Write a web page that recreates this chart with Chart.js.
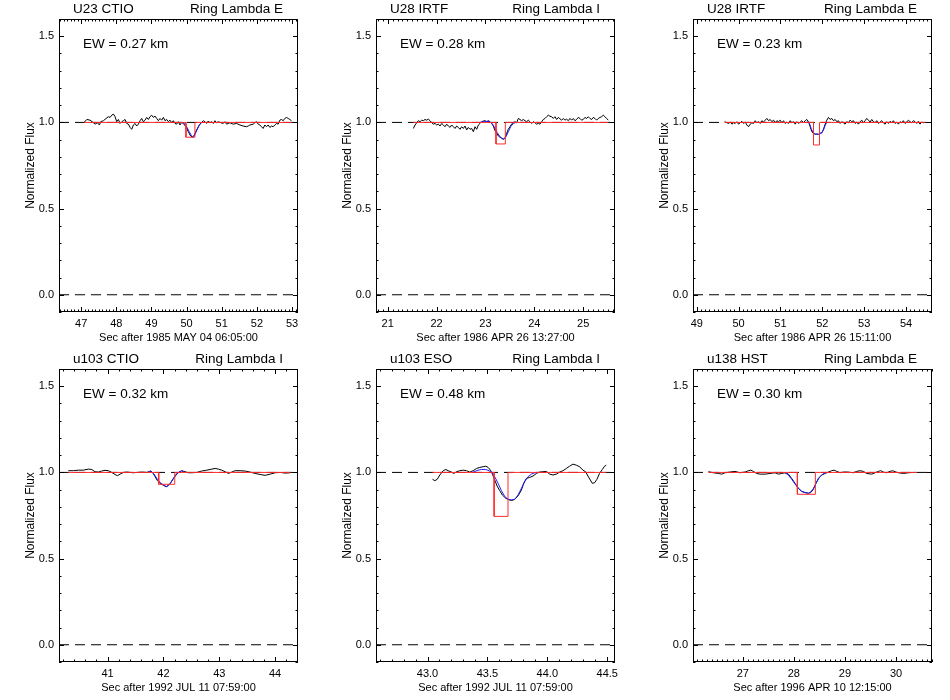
<!DOCTYPE html>
<html>
<head>
<meta charset="utf-8">
<title>Ring Lambda occultation profiles</title>
<script src="https://cdn.jsdelivr.net/npm/chart.js@4.4.1/dist/chart.umd.min.js"></script>
<style>
  body { margin: 0; background: #fff; }
  #wrap { position: relative; width: 950px; height: 700px; }
  canvas { position: absolute; }
</style>
</head>
<body>
<div id="wrap">
  <canvas id="c1" width="317" height="350" style="left:0px;top:0px"></canvas>
  <canvas id="c2" width="317" height="350" style="left:317px;top:0px"></canvas>
  <canvas id="c3" width="317" height="350" style="left:634px;top:0px"></canvas>
  <canvas id="c4" width="317" height="350" style="left:0px;top:350px"></canvas>
  <canvas id="c5" width="317" height="350" style="left:317px;top:350px"></canvas>
  <canvas id="c6" width="317" height="350" style="left:634px;top:350px"></canvas>
</div>
<script>
// ---- shared axis values ----
var yRange = [-0.1, 1.6];
var yTicks = [0.0, 0.5, 1.0, 1.5];

// ---- panel 1: U23 CTIO, Ring Lambda E ----
var p1Range = [46.37, 53.17];
var p1Ticks = [47, 48, 49, 50, 51, 52, 53];
var p1Time = [47.085,47.161,47.255,47.350,47.397,47.464,47.520,47.558,47.634,47.710,47.776,47.823,47.871,47.918,47.965,48.013,48.060,48.107,48.155,48.202,48.250,48.297,48.344,48.392,48.439,48.486,48.534,48.581,48.628,48.676,48.723,48.770,48.818,48.865,48.912,48.960,49.007,49.055,49.102,49.149,49.197,49.244,49.291,49.339,49.386,49.433,49.481,49.528,49.575,49.623,49.670,49.717,49.765,49.812,49.860,49.907,49.983,50.049,50.115,50.172,50.219,50.286,50.361,50.427,50.475,50.522,50.570,50.617,50.664,50.712,50.759,50.806,50.854,50.901,50.948,51.043,51.091,51.138,51.233,51.327,51.422,51.517,51.611,51.706,51.754,51.801,51.896,51.943,51.990,52.037,52.085,52.132,52.179,52.227,52.274,52.321,52.369,52.416,52.464,52.511,52.558,52.606,52.653,52.700,52.748,52.795,52.842,52.890,52.937,52.985];
var p1Flux = [1.000,1.017,1.013,0.998,0.990,0.998,0.985,1.004,1.010,1.023,1.033,1.029,1.042,1.048,1.033,1.004,1.017,0.994,1.004,1.010,1.017,0.994,0.990,0.971,0.960,0.985,0.994,0.979,0.990,1.010,1.023,1.004,1.013,1.029,1.017,1.033,1.042,1.029,1.037,1.023,1.010,1.023,1.013,1.029,1.010,1.017,1.004,1.013,0.998,1.010,0.994,0.990,1.004,0.985,1.000,0.994,0.975,0.946,0.921,0.914,0.927,0.956,0.985,1.000,1.010,1.004,0.994,1.008,0.998,1.004,0.994,1.010,0.998,1.004,1.000,0.994,1.004,0.990,0.998,0.990,0.994,0.985,0.979,0.975,0.979,0.985,0.990,0.998,1.004,0.990,0.985,0.975,0.965,0.985,0.975,0.985,0.971,0.979,0.975,0.985,0.994,0.990,1.013,1.017,1.010,1.023,1.029,1.023,1.017,1.010];
var p1FitTime = [49.860,49.926,50.002,50.077,50.134,50.172,50.219,50.286,50.361,50.427];
var p1Fit = [1.000,0.996,0.975,0.946,0.925,0.916,0.921,0.952,0.983,1.000];
var p1WellTime = [47.085,49.983,49.983,50.238,50.238,52.985];
var p1Well = [1,1,0.914,0.914,1,1];

// ---- panel 2: U28 IRTF, Ring Lambda I ----
var p2Range = [20.76, 25.65];
var p2Ticks = [21, 22, 23, 24, 25];
var p2Time = [21.525,21.559,21.593,21.627,21.661,21.695,21.729,21.763,21.797,21.831,21.866,21.900,21.934,21.968,22.002,22.036,22.070,22.104,22.138,22.172,22.206,22.240,22.275,22.309,22.343,22.377,22.411,22.445,22.479,22.513,22.547,22.581,22.615,22.649,22.684,22.718,22.752,22.786,22.820,22.854,22.888,22.922,22.956,22.990,23.024,23.058,23.093,23.127,23.161,23.195,23.229,23.263,23.297,23.331,23.365,23.399,23.433,23.467,23.501,23.535,23.570,23.604,23.638,23.672,23.706,23.740,23.774,23.808,23.842,23.876,23.910,23.945,23.979,24.013,24.047,24.081,24.115,24.149,24.183,24.217,24.251,24.285,24.319,24.354,24.388,24.422,24.456,24.490,24.524,24.558,24.592,24.626,24.660,24.694,24.729,24.763,24.797,24.831,24.865,24.899,24.933,24.967,25.001,25.035,25.069,25.103,25.137,25.172,25.206,25.240,25.274,25.308,25.342,25.376,25.410,25.444,25.478,25.512];
var p2Flux = [0.965,0.985,0.998,1.010,1.004,1.013,1.010,1.017,1.013,1.019,1.010,0.998,0.990,0.994,0.985,0.990,0.979,0.994,0.985,0.975,0.990,0.979,0.971,0.985,0.975,0.965,0.979,0.971,0.960,0.975,0.965,0.979,0.956,0.971,0.960,0.965,0.946,0.975,0.960,0.985,0.994,1.004,1.008,1.010,1.004,1.010,1.004,0.994,0.979,0.952,0.937,0.921,0.914,0.908,0.902,0.908,0.937,0.960,0.975,0.990,1.000,1.004,0.998,1.023,1.017,1.010,1.017,1.010,1.004,1.013,1.004,0.994,1.004,0.998,0.990,0.994,0.990,1.004,1.017,1.023,1.033,1.042,1.036,1.033,1.023,1.033,1.017,1.029,1.021,1.013,1.023,1.013,1.019,1.010,1.023,1.013,1.023,1.010,1.017,1.029,1.023,1.013,1.017,1.029,1.023,1.033,1.023,1.017,1.029,1.023,1.013,1.023,1.029,1.033,1.042,1.033,1.023,1.013];
var p2FitTime = [22.888,22.990,23.079,23.147,23.195,23.242,23.297,23.345,23.379,23.420,23.467,23.515,23.570,23.624];
var p2Fit = [1.000,1.006,1.006,0.990,0.965,0.940,0.917,0.906,0.904,0.917,0.946,0.975,0.994,1.000];
var p2WellTime = [21.525,23.215,23.215,23.406,23.406,25.512];
var p2Well = [1,1,0.875,0.875,1,1];

// ---- panel 3: U28 IRTF, Ring Lambda E ----
var p3Range = [48.91, 54.62];
var p3Ticks = [49, 50, 51, 52, 53, 54];
var p3Time = [49.664,49.720,49.760,49.800,49.839,49.879,49.919,49.959,49.999,50.038,50.078,50.118,50.158,50.197,50.237,50.277,50.317,50.357,50.396,50.436,50.476,50.516,50.555,50.595,50.635,50.675,50.715,50.754,50.794,50.834,50.874,50.913,50.953,50.993,51.033,51.073,51.112,51.152,51.192,51.232,51.271,51.311,51.351,51.391,51.431,51.470,51.510,51.550,51.590,51.629,51.669,51.709,51.749,51.788,51.828,51.868,51.908,51.948,51.987,52.027,52.067,52.107,52.146,52.186,52.226,52.266,52.306,52.345,52.385,52.425,52.465,52.504,52.544,52.584,52.624,52.664,52.703,52.743,52.783,52.823,52.862,52.902,52.942,52.982,53.022,53.061,53.101,53.141,53.181,53.220,53.260,53.300,53.340,53.380,53.419,53.459,53.499,53.539,53.578,53.618,53.658,53.698,53.738,53.777,53.817,53.857,53.897,53.936,53.976,54.016,54.056,54.096,54.135,54.175,54.215,54.255,54.294,54.334,54.374,54.414,54.454];
var p3Flux = [1.004,0.998,0.994,1.002,0.990,0.998,0.994,1.004,0.990,0.998,1.006,0.994,1.002,0.985,0.975,0.990,0.998,0.994,1.010,0.998,1.004,0.994,1.010,1.002,1.013,1.023,1.010,1.017,1.004,1.013,0.998,1.010,1.004,1.013,0.998,1.010,0.994,1.002,0.994,1.010,0.998,1.004,0.990,1.004,0.994,1.002,1.010,0.998,1.010,1.017,1.004,0.975,0.946,0.937,0.931,0.933,0.931,0.937,0.940,0.960,0.990,1.013,1.029,1.017,1.023,1.010,1.017,1.004,1.010,0.994,1.004,0.998,0.990,1.004,0.998,1.013,1.004,1.010,0.994,1.002,0.990,1.004,1.013,0.998,1.010,1.023,1.013,1.002,1.017,1.004,0.998,1.010,0.994,1.002,1.010,0.998,0.990,1.004,0.994,1.006,0.998,1.010,0.994,1.002,0.990,1.004,0.998,1.010,0.994,1.002,1.013,1.004,0.998,1.010,1.004,0.994,1.006,0.990,1.002,0.998,1.000];
var p3FitTime = [51.645,51.693,51.733,51.773,51.828,51.908,51.987,52.027,52.067,52.107];
var p3Fit = [1.006,0.994,0.965,0.944,0.933,0.931,0.939,0.956,0.983,1.000];
var p3WellTime = [49.664,51.789,51.789,51.932,51.932,54.454];
var p3Well = [1,1,0.869,0.869,1,1];

// ---- panel 4: u103 CTIO, Ring Lambda I ----
var p4Range = [40.13, 44.41];
var p4Ticks = [41, 42, 43, 44];
var p4Time = [40.297,40.387,40.477,40.566,40.656,40.716,40.775,40.835,40.895,40.954,41.014,41.074,41.134,41.175,41.223,41.283,41.343,41.402,41.462,41.522,41.612,41.701,41.761,41.809,41.851,41.892,41.940,42.000,42.048,42.089,42.131,42.179,42.227,42.275,42.328,42.388,42.448,42.508,42.597,42.687,42.776,42.866,42.926,42.986,43.045,43.105,43.165,43.224,43.284,43.374,43.463,43.553,43.643,43.732,43.822,43.911,44.001,44.091,44.180,44.270];
var p4Flux = [1.010,1.010,1.013,1.013,1.019,1.017,1.004,1.002,1.008,1.012,1.010,1.000,0.988,0.981,0.990,1.000,1.002,1.000,0.998,1.000,1.002,1.000,1.006,0.998,0.975,0.952,0.937,0.925,0.917,0.925,0.940,0.964,0.985,1.000,1.010,1.004,0.998,0.998,1.000,1.008,1.013,1.019,1.023,1.019,1.013,1.004,0.994,1.002,1.010,1.010,1.008,1.002,0.994,0.988,0.983,0.990,0.998,1.000,0.996,0.998];
var p4FitTime = [41.731,41.773,41.833,41.892,41.952,42.012,42.060,42.107,42.167,42.227,42.287,42.328,42.370];
var p4Fit = [1.000,1.010,0.990,0.960,0.937,0.925,0.917,0.929,0.960,0.990,1.004,1.008,1.000];
var p4WellTime = [40.297,41.916,41.916,42.203,42.203,44.270];
var p4Well = [1,1,0.931,0.931,1,1];

// ---- panel 5: u103 ESO, Ring Lambda I ----
var p5Range = [42.57, 44.565];
var p5Ticks = [43.0, 43.5, 44.0, 44.5];
var p5Time = [43.042,43.061,43.081,43.103,43.131,43.153,43.172,43.200,43.220,43.242,43.270,43.297,43.325,43.353,43.381,43.409,43.436,43.464,43.486,43.506,43.525,43.542,43.561,43.581,43.603,43.625,43.653,43.681,43.703,43.728,43.756,43.784,43.803,43.825,43.853,43.881,43.909,43.936,43.964,43.992,44.020,44.047,44.075,44.103,44.131,44.159,44.186,44.214,44.242,44.270,44.297,44.320,44.339,44.359,44.375,44.395,44.414,44.436,44.459,44.478,44.492];
var p5Flux = [0.960,0.952,0.960,0.985,1.010,1.017,1.010,1.002,0.994,1.004,1.010,1.013,1.010,1.002,1.010,1.023,1.029,1.033,1.036,1.029,1.013,0.990,0.956,0.921,0.894,0.869,0.850,0.841,0.837,0.844,0.864,0.898,0.937,0.965,0.971,0.979,0.994,1.002,1.004,1.006,0.990,0.985,0.990,1.002,1.010,1.023,1.036,1.048,1.042,1.033,1.013,1.004,0.979,0.956,0.937,0.940,0.960,0.994,1.017,1.036,1.042];
var p5FitTime = [43.381,43.422,43.450,43.486,43.514,43.542,43.564,43.589,43.617,43.645,43.672,43.700,43.728,43.756,43.784,43.811,43.839,43.867,43.895,43.931];
var p5Fit = [1.002,1.013,1.017,1.017,1.010,0.994,0.971,0.937,0.894,0.860,0.844,0.841,0.844,0.869,0.908,0.946,0.975,0.990,0.998,1.000];
var p5WellTime = [43.042,43.556,43.556,43.672,43.672,44.492];
var p5Well = [1,1,0.745,0.745,1,1];

// ---- panel 6: u138 HST, Ring Lambda E ----
var p6Range = [26.025, 30.705];
var p6Ticks = [27, 28, 29, 30];
var p6Time = [26.326,26.424,26.522,26.587,26.652,26.750,26.848,26.946,27.044,27.109,27.155,27.207,27.272,27.338,27.436,27.534,27.631,27.697,27.762,27.827,27.893,27.958,28.023,28.088,28.154,28.219,28.284,28.330,28.382,28.434,28.480,28.545,28.611,28.676,28.741,28.787,28.839,28.904,28.970,29.068,29.165,29.231,29.296,29.361,29.426,29.525,29.590,29.655,29.701,29.753,29.818,29.884,29.936,29.981,30.047,30.145,30.242,30.340,30.405];
var p6Flux = [1.004,0.998,0.994,0.990,0.998,1.002,1.006,0.998,1.002,1.010,1.013,1.006,0.994,0.990,0.990,0.994,0.998,0.990,0.994,0.998,0.990,0.965,0.937,0.908,0.889,0.883,0.879,0.883,0.902,0.937,0.965,0.985,0.994,1.002,1.010,1.013,1.006,0.998,1.002,1.002,0.998,1.006,1.010,1.006,0.994,0.990,0.998,1.006,1.010,1.002,0.998,1.006,1.010,1.004,0.998,0.994,0.998,1.000,1.000];
var p6FitTime = [27.827,27.893,27.958,28.023,28.088,28.154,28.219,28.284,28.330,28.382,28.434,28.500,28.565,28.643];
var p6Fit = [0.998,0.985,0.960,0.933,0.908,0.891,0.883,0.879,0.887,0.906,0.937,0.971,0.990,1.000];
var p6WellTime = [26.326,28.069,28.069,28.421,28.421,30.405];
var p6Well = [1,1,0.873,0.873,1,1];

Chart.defaults.font.family = '"Liberation Sans", Arial, sans-serif';
Chart.defaults.color = '#000';

// box, inward ticks and the text labels IDL-style
const framePlugin = {
  id: 'frame',
  afterDatasetsDraw(chart, args, opts) {
    const ctx = chart.ctx;
    const a = chart.chartArea;
    const xs = chart.scales.x, ys = chart.scales.y;
    ctx.save();
    ctx.strokeStyle = '#000';
    ctx.lineWidth = 1;
    ctx.strokeRect(a.left + 0.5, a.top + 0.5, a.right - a.left - 1, a.bottom - a.top - 1);

    ctx.beginPath();
    function xTick(v, len) {
      const px = Math.round(xs.getPixelForValue(v)) + 0.5;
      ctx.moveTo(px, a.bottom); ctx.lineTo(px, a.bottom - len);
      ctx.moveTo(px, a.top); ctx.lineTo(px, a.top + len);
    }
    function yTick(v, len) {
      const py = Math.round(ys.getPixelForValue(v)) + 0.5;
      ctx.moveTo(a.left, py); ctx.lineTo(a.left + len, py);
      ctx.moveTo(a.right, py); ctx.lineTo(a.right - len, py);
    }
    const st = opts.minor;
    for (let k = Math.ceil(xs.min / st - 1e-6); k * st <= xs.max + 1e-9; k++) xTick(k * st, 2.5);
    opts.ticks.forEach(v => xTick(v, 5));
    for (let k = -1; k <= 16; k++) yTick(k * 0.1, 2.5);
    yTicks.forEach(v => yTick(v, 5));
    ctx.stroke();

    ctx.fillStyle = '#000';
    ctx.font = '13.5px "Liberation Sans", Arial, sans-serif';
    ctx.textAlign = 'left';
    ctx.fillText(opts.left, a.left + 14, 13);
    ctx.textAlign = 'right';
    ctx.fillText(opts.right, a.right - 15, 13);
    ctx.textAlign = 'left';
    ctx.fillText(opts.ew, a.left + 24, 48);
    ctx.restore();
  }
};

function pts(xs, ys) {
  return xs.map((v, i) => ({x: v, y: ys[i]}));
}

function makePanel(id, p) {
  new Chart(document.getElementById(id), {
    type: 'line',
    data: {
      datasets: [
        {data: pts(p.wellTime, p.well), borderColor: 'rgb(255,45,45)', borderWidth: 1},
        {data: pts(p.fitTime, p.fit), borderColor: 'rgb(30,30,255)', borderWidth: 1},
        {data: pts(p.time, p.flux), borderColor: '#000', borderWidth: 1},
        {data: [{x: p.range[0], y: 1}, {x: p.range[1], y: 1}], borderColor: '#000', borderWidth: 1, borderDash: [10, 6]},
        {data: [{x: p.range[0], y: 0}, {x: p.range[1], y: 0}], borderColor: '#000', borderWidth: 1, borderDash: [10, 6]}
      ]
    },
    options: {
      responsive: false,
      animation: false,
      events: [],
      layout: {padding: {top: 19, right: 19, left: 0, bottom: 0}},
      elements: {point: {radius: 0}, line: {tension: 0, fill: false}},
      plugins: {
        legend: {display: false},
        tooltip: {enabled: false},
        frame: {left: p.left, right: p.right, ew: p.ew, ticks: p.ticks, minor: p.minor}
      },
      scales: {
        x: {
          type: 'linear', min: p.range[0], max: p.range[1],
          grid: {display: false, drawTicks: false},
          border: {display: false},
          ticks: {padding: 5, font: {size: 11}, maxRotation: 0, autoSkip: false,
                  callback: v => v.toFixed(p.dec)},
          afterBuildTicks: s => { s.ticks = p.ticks.map(v => ({value: v})); },
          afterFit: s => { s.height = 38; },
          title: {display: true, text: p.xlabel, font: {size: 11}, padding: {top: 0, bottom: 5}}
        },
        y: {
          type: 'linear', min: yRange[0], max: yRange[1],
          grid: {display: false, drawTicks: false},
          border: {display: false},
          ticks: {padding: 5, font: {size: 11}, callback: v => v.toFixed(1)},
          afterBuildTicks: s => { s.ticks = yTicks.map(v => ({value: v})); },
          afterFit: s => { s.width = 59; },
          title: {display: true, text: 'Normalized Flux', font: {size: 12}, padding: {top: 23, bottom: 0}}
        }
      }
    },
    plugins: [framePlugin]
  });
}

makePanel('c1', {left: 'U23 CTIO', right: 'Ring Lambda E', ew: 'EW = 0.27 km', xlabel: 'Sec after 1985 MAY 04 06:05:00',
  range: p1Range, ticks: p1Ticks, minor: 0.1, dec: 0, time: p1Time, flux: p1Flux, fitTime: p1FitTime, fit: p1Fit, wellTime: p1WellTime, well: p1Well});
makePanel('c2', {left: 'U28 IRTF', right: 'Ring Lambda I', ew: 'EW = 0.28 km', xlabel: 'Sec after 1986 APR 26 13:27:00',
  range: p2Range, ticks: p2Ticks, minor: 0.1, dec: 0, time: p2Time, flux: p2Flux, fitTime: p2FitTime, fit: p2Fit, wellTime: p2WellTime, well: p2Well});
makePanel('c3', {left: 'U28 IRTF', right: 'Ring Lambda E', ew: 'EW = 0.23 km', xlabel: 'Sec after 1986 APR 26 15:11:00',
  range: p3Range, ticks: p3Ticks, minor: 0.1, dec: 0, time: p3Time, flux: p3Flux, fitTime: p3FitTime, fit: p3Fit, wellTime: p3WellTime, well: p3Well});
makePanel('c4', {left: 'u103 CTIO', right: 'Ring Lambda I', ew: 'EW = 0.32 km', xlabel: 'Sec after 1992 JUL 11 07:59:00',
  range: p4Range, ticks: p4Ticks, minor: 0.2, dec: 0, time: p4Time, flux: p4Flux, fitTime: p4FitTime, fit: p4Fit, wellTime: p4WellTime, well: p4Well});
makePanel('c5', {left: 'u103 ESO', right: 'Ring Lambda I', ew: 'EW = 0.48 km', xlabel: 'Sec after 1992 JUL 11 07:59:00',
  range: p5Range, ticks: p5Ticks, minor: 0.1, dec: 1, time: p5Time, flux: p5Flux, fitTime: p5FitTime, fit: p5Fit, wellTime: p5WellTime, well: p5Well});
makePanel('c6', {left: 'u138 HST', right: 'Ring Lambda E', ew: 'EW = 0.30 km', xlabel: 'Sec after 1996 APR 10 12:15:00',
  range: p6Range, ticks: p6Ticks, minor: 0.1, dec: 0, time: p6Time, flux: p6Flux, fitTime: p6FitTime, fit: p6Fit, wellTime: p6WellTime, well: p6Well});
</script>
</body>
</html>
